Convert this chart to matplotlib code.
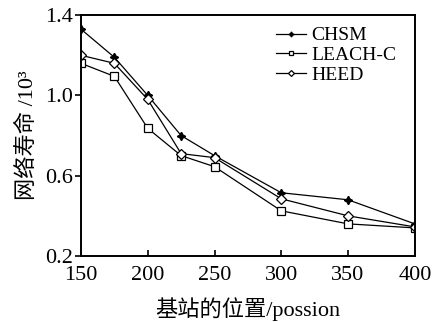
import matplotlib
matplotlib.use("Agg")
import matplotlib.pyplot as plt

# Data
positions = [150, 175, 200, 225, 250, 300, 350, 400]
chsm = [1.33, 1.19, 1.00, 0.80, 0.70, 0.515, 0.48, 0.36]
leach_c = [1.16, 1.095, 0.836, 0.70, 0.645, 0.425, 0.36, 0.34]
heed = [1.20, 1.16, 0.98, 0.71, 0.69, 0.485, 0.40, 0.345]

xticks = [150, 200, 250, 300, 350, 400]
yticks = [0.2, 0.6, 1.0, 1.4]

plt.rcParams['font.family'] = ['Liberation Serif', 'Noto Sans CJK SC']

fig = plt.figure(figsize=(4.33, 3.22), dpi=100)
ax = fig.add_axes([0.187, 0.205, 0.771, 0.748])

ax.plot(positions, chsm, color='black', lw=0.9, marker=(4, 1, 0), ms=6,
        mfc='black', mec='black', label='CHSM')
ax.plot(positions, leach_c, color='black', lw=0.9, marker='s', ms=6,
        mfc='white', mec='black', mew=0.9, label='LEACH-C')
ax.plot(positions, heed, color='black', lw=0.9, marker='D', ms=5,
        mfc='white', mec='black', mew=0.9, label='HEED')

ax.set_xlim(150, 400)
ax.set_ylim(0.2, 1.4)
ax.set_xticks(xticks)
ax.set_yticks(yticks)
ax.set_yticklabels([f'{v:.1f}' for v in yticks])
ax.tick_params(axis='x', direction='in', length=4, width=1.2, labelsize=16, pad=7)
ax.tick_params(axis='y', direction='out', length=4, width=1.2, labelsize=16, pad=2)
for s in ax.spines.values():
    s.set_linewidth(1.4)

ax.set_xlabel('基站的位置/possion', fontsize=16, labelpad=9)
ax.set_ylabel('网络寿命 /10³', fontsize=16, labelpad=5)

ax.legend(loc='upper right', frameon=False, fontsize=14, handlelength=1.5,
          handletextpad=0.3, labelspacing=0.1, markerscale=0.6,
          bbox_to_anchor=(0.98, 1.0), borderaxespad=0.2)

fig.savefig('out.png', dpi=100)
